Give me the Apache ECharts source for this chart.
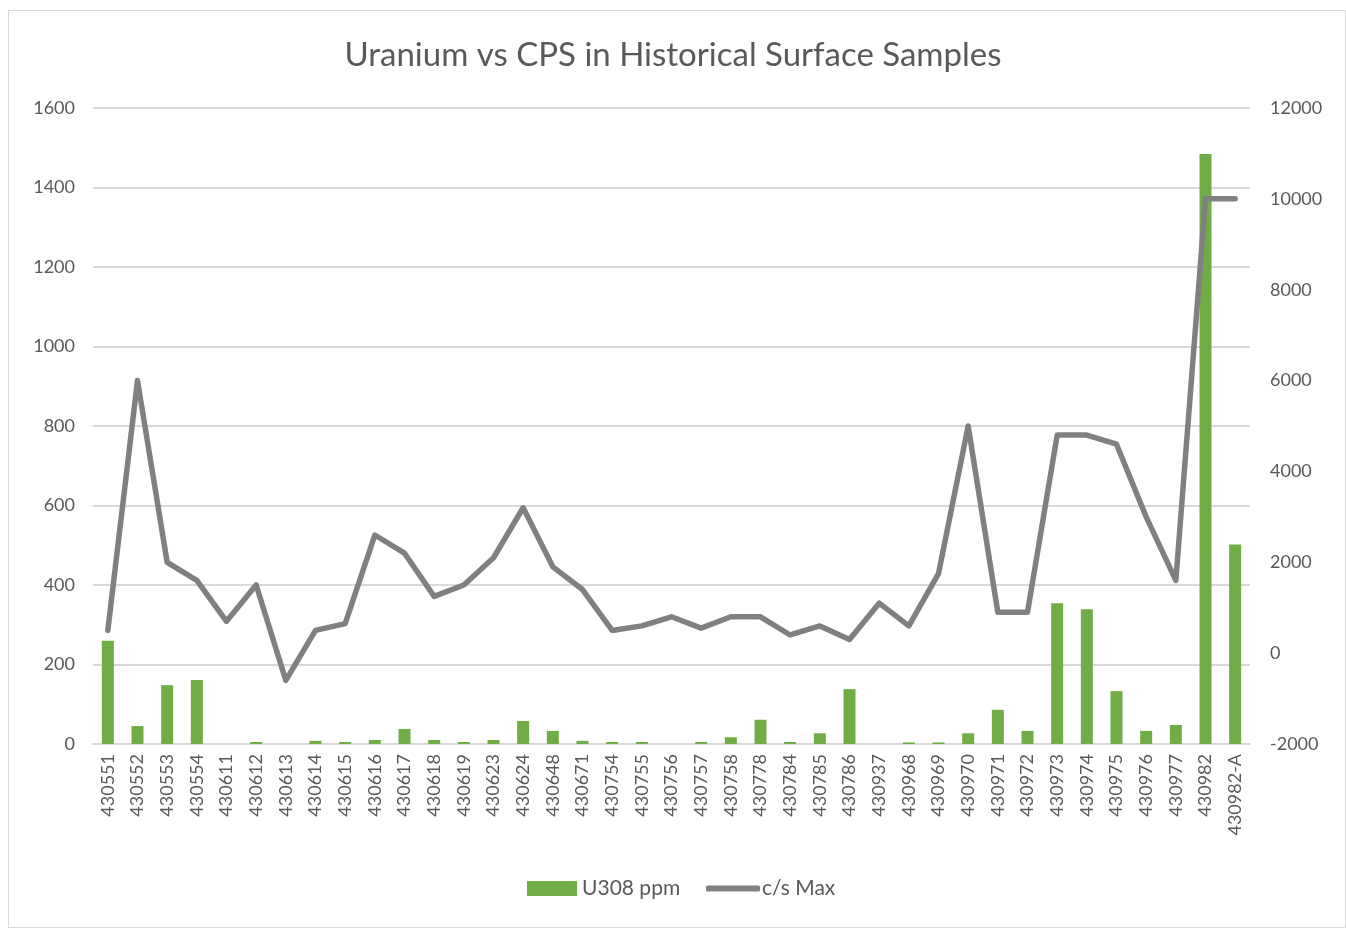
<!DOCTYPE html>
<html>
<head>
<meta charset="utf-8">
<script src="https://cdn.jsdelivr.net/npm/echarts@6/dist/echarts.min.js"></script>
<style>
  html, body { margin: 0; padding: 0; background: #fff; }
  #frame { position: absolute; left: 8px; top: 10px; width: 1336px; height: 916px; border: 1px solid #d9d9d9; }
  #main { position: absolute; left: 0; top: 0; width: 1346px; height: 932px; }
</style>
</head>
<body>
<div id="frame"></div>
<div id="main"></div>
<script>
const samples = ['430551', '430552', '430553', '430554', '430611', '430612', '430613', '430614', '430615', '430616',
    '430617', '430618', '430619', '430623', '430624', '430648', '430671', '430754', '430755', '430756',
    '430757', '430758', '430778', '430784', '430785', '430786', '430937', '430968', '430969', '430970',
    '430971', '430972', '430973', '430974', '430975', '430976', '430977', '430982', '430982-A'];

// U308 ppm (left axis)
const u308 = [260, 45, 148, 161, 0, 5, 0, 8, 5, 10,
    38, 10, 5, 10, 58, 33, 8, 5, 5, 0,
    5, 17, 61, 5, 27, 138, 0, 4, 4, 27,
    86, 33, 354, 339, 133, 33, 48, 1484, 502];

// c/s Max (right axis)
const cpsMax = [500, 6000, 2000, 1600, 700, 1500, -600, 500, 650, 2600,
    2200, 1250, 1500, 2100, 3200, 1900, 1400, 500, 600, 800,
    550, 800, 800, 400, 600, 300, 1100, 600, 1750, 5000,
    900, 900, 4800, 4800, 4600, 3000, 1600, 10000, 10000];

const chart = echarts.init(document.getElementById('main'));
const fontFamily = 'Lato, "Open Sans", sans-serif';
const textColor = '#595959';
const plain = v => String(v);

const option = {
    textStyle: { fontFamily: fontFamily },
    title: {
        text: 'Uranium vs CPS in Historical Surface Samples',
        left: 'center',
        top: 34,
        textStyle: {
            fontFamily: fontFamily,
            fontSize: 33,
            fontWeight: 'normal',
            color: textColor
        }
    },
    legend: [
        {
            left: 522,
            top: 873,
            itemWidth: 50,
            itemHeight: 15,
            textStyle: { fontSize: 21, color: textColor, fontFamily: fontFamily },
            data: [{ name: 'U308 ppm', icon: 'rect' }]
        },
        {
            left: 701,
            top: 873,
            itemWidth: 54,
            itemHeight: 6,
            itemStyle: { color: '#808080' },
            textStyle: { fontSize: 21, color: textColor, fontFamily: fontFamily, padding: [0, 0, 0, -3] },
            data: [{ name: 'c/s Max', icon: 'roundRect' }]
        }
    ],
    grid: {
        left: 93,
        right: 96,
        top: 108,
        bottom: 188
    },
    xAxis: {
        type: 'category',
        data: samples,
        boundaryGap: true,
        axisLine: { lineStyle: { color: '#d9d9d9', width: 2 } },
        axisTick: { show: false },
        axisLabel: {
            rotate: 90,
            margin: 10,
            interval: 0,
            fontSize: 18,
            color: textColor,
            fontFamily: fontFamily
        }
    },
    yAxis: [
        {
            type: 'value',
            min: 0,
            max: 1600,
            interval: 200,
            axisLine: { show: false },
            axisTick: { show: false },
            axisLabel: { fontSize: 18, color: textColor, margin: 18, fontFamily: fontFamily, formatter: plain },
            splitLine: { lineStyle: { color: '#d9d9d9', width: 2 } }
        },
        {
            type: 'value',
            min: -2000,
            max: 12000,
            interval: 2000,
            axisLine: { show: false },
            axisTick: { show: false },
            axisLabel: { fontSize: 18, color: textColor, margin: 20, fontFamily: fontFamily, formatter: plain },
            splitLine: { show: false }
        }
    ],
    series: [
        {
            name: 'U308 ppm',
            type: 'bar',
            yAxisIndex: 0,
            barWidth: 12,
            itemStyle: { color: '#70ad47' },
            data: u308
        },
        {
            name: 'c/s Max',
            type: 'line',
            yAxisIndex: 1,
            showSymbol: false,
            symbol: 'none',
            lineStyle: { color: '#808080', width: 5.5, cap: 'round', join: 'round' },
            itemStyle: { color: '#808080' },
            data: cpsMax
        }
    ]
};

chart.setOption(option);
</script>
</body>
</html>
